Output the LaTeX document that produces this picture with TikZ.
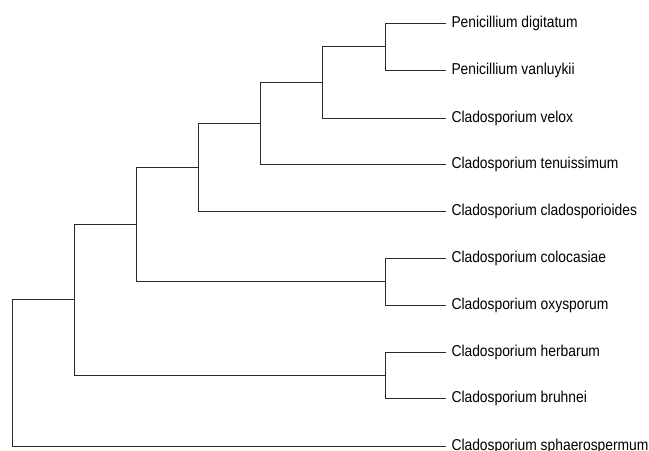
\documentclass[tikz,border=0pt]{standalone}
\usepackage{fontspec}
\setmainfont[FakeStretch=0.88]{Liberation Sans}
\usetikzlibrary{positioning}
\definecolor{cline}{HTML}{2A2A2A}
\tikzset{
  every picture/.style={line width=0.75pt},
  branch/.style={draw=cline, line cap=rect},
  leaf/.style={anchor=west, inner xsep=4.5pt, inner ysep=0pt, font=\fontsize{11.8}{13}\selectfont},
}

\begin{document}
\begin{tikzpicture}[x=0.75pt, y=-0.75pt]
  \useasboundingbox (0,0) rectangle (649,450);
  % leaves
  \foreach \n/\y/\t in {dig/23/Penicillium digitatum, van/70/Penicillium vanluykii,
      vel/118/Cladosporium velox, ten/164/Cladosporium tenuissimum,
      cla/211/Cladosporium cladosporioides, col/258/Cladosporium colocasiae,
      oxy/305/Cladosporium oxysporum, her/352/Cladosporium herbarum,
      bru/398/Cladosporium bruhnei, sph/446/Cladosporium sphaerospermum} {
    \node[leaf] (\n) at (445,\y) {\t};
  }
  % inner nodes
  \coordinate (pen) at (385,46.5);
  \coordinate (n4) at (322,82);
  \coordinate (n3) at (260,123);
  \coordinate (n2) at (198,167);
  \coordinate (cx) at (385,281.5);
  \coordinate (n1) at (136,224);
  \coordinate (hb) at (385,375);
  \coordinate (n0) at (74,299.5);
  \coordinate (root) at (12,373);
  % branches
  \foreach \p/\c in {pen/dig, pen/van, n4/pen, n4/vel, n3/n4, n3/ten, n2/n3, n2/cla,
      cx/col, cx/oxy, n1/n2, n1/cx, hb/her, hb/bru, n0/n1, n0/hb, root/n0, root/sph} {
    \draw[branch] (\p) |- (\c);
  }
\end{tikzpicture}
\end{document}
